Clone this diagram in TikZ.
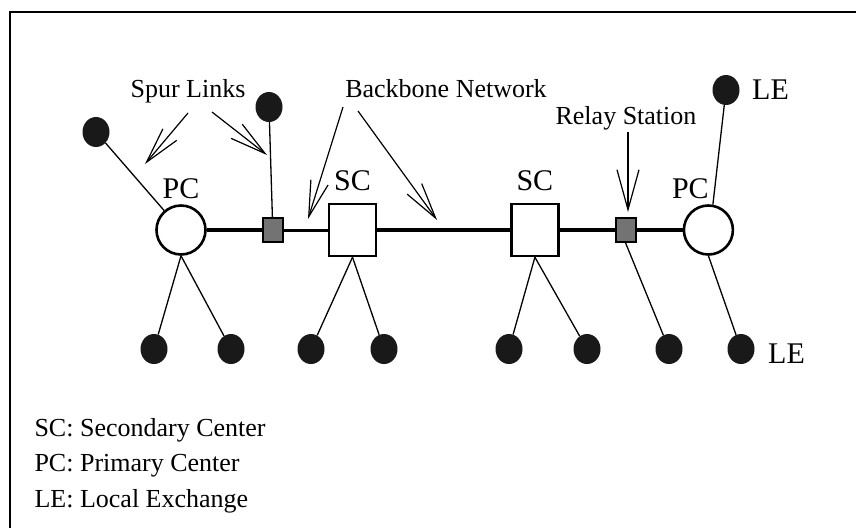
\documentclass[tikz,border=0pt]{standalone}
\usepackage{fontspec}
\setmainfont{Liberation Serif}
\usetikzlibrary{positioning,shapes.geometric,arrows.meta}

\tikzset{
  pc/.style={circle, draw, line width=2.6pt, minimum size=49pt, inner sep=0pt, fill=white},
  sc/.style={rectangle, draw, line width=2.4pt, minimum width=47pt, minimum height=52pt, inner sep=0pt, fill=white},
  relay/.style={rectangle, draw, line width=2pt, fill=black!55, minimum width=20pt, minimum height=24pt, inner sep=0pt},
  le/.style={ellipse, fill=black!90, minimum width=27pt, minimum height=30pt, inner sep=0pt},
  trunk/.style={line width=4pt},
  spur/.style={line width=1.3pt},
  pointer/.style={line width=1.2pt, -{Straight Barb[length=36pt,width=18pt]}},
  tag/.style={font=\fontsize{26}{30}\selectfont},
  bigtag/.style={font=\fontsize{30}{34}\selectfont},
}

\begin{document}
\begin{tikzpicture}[x=1pt, y=-1pt]
\useasboundingbox (0,0) rectangle (856,528);
\draw[line width=1.8pt] (856,12) -- (10,12) -- (10,528);

% backbone chain
\node[pc, label={[bigtag, label distance=2pt]above:PC}] (pcA) at (181,230) {};
\node[relay, right=55pt of pcA] (relA) {};
\node[sc, right=44pt of relA, label={[bigtag, label distance=8pt]above:SC}] (scA) {};
\node[sc, right=133pt of scA, label={[bigtag, label distance=8pt]above:SC}] (scB) {};
\node[relay, right=55pt of scB] (relB) {};
\node[pc, right=46pt of relB, label={[bigtag, label distance=2pt, xshift=-18pt]above:PC}] (pcB) {};

\draw[trunk] (pcA) -- (relA);
\draw[line width=3pt] (relA) -- (scA);
\draw[trunk] (scA) -- (scB);
\draw[trunk] (scB) -- (relB);
\draw[trunk] (relB) -- (pcB);

% local exchanges
\node[le] (leL) at (96,132) {};
\node[le] (leT1) at (269,107) {};
\node[le, label={[bigtag, label distance=9pt]right:LE}] (leT2) at (726,90) {};
\foreach \x [count=\i] in {154,231,311,384,509,587,669}
  \node[le] (le\i) at (\x,349) {};
\node[le, label={[bigtag, label distance=10pt, yshift=-5pt]right:LE}] (le8) at (741,349) {};

\draw[spur] (leL) -- (pcA);
\draw[spur] (leT1) -- (relA);
\draw[spur] (leT2) -- (pcB.80);
\draw[spur] (pcA.south) -- (le1);
\draw[spur] (pcA.south) -- (le2);
\draw[spur] (scA.south) -- (le3);
\draw[spur] (scA.south) -- (le4);
\draw[spur] (scB.south) -- (le5);
\draw[spur] (scB.south) -- (le6);
\draw[spur] (relB.south) -- (le7);
\draw[spur] (pcB.south) -- (le8);

% callouts
\node[tag] (spurtxt) at (188,91) {Spur Links};
\node[tag] (bbtxt) at (446,89) {Backbone Network};
\node[tag] (relaytxt) at (626,118) {Relay Station};

\coordinate (spurA0) at (188,113);
\coordinate (spurA1) at (145,164);
\coordinate (spurB0) at (212,112);
\coordinate (spurB1) at (267,155);
\coordinate (bbA0) at (343,107);
\coordinate (bbA1) at (308,219);
\coordinate (bbB0) at (358,111);
\coordinate (bbB1) at (437,220);
\coordinate (relay0) at (628,132);
\coordinate (relay1) at (628,212);

\draw[pointer] (spurA0) -- (spurA1);
\draw[pointer] (spurB0) -- (spurB1);
\draw[pointer] (bbA0) -- (bbA1);
\draw[pointer] (bbB0) -- (bbB1);
\draw[pointer, -{Straight Barb[length=40pt,width=22pt]}] (relay0) -- (relay1);

% key
\node[tag, anchor=west] (keySC) at (31,430) {SC: Secondary Center};
\node[tag, anchor=west] (keyPC) at (31,466) {PC: Primary Center};
\node[tag, anchor=west] (keyLE) at (31,501) {LE: Local Exchange};
\end{tikzpicture}
\end{document}
